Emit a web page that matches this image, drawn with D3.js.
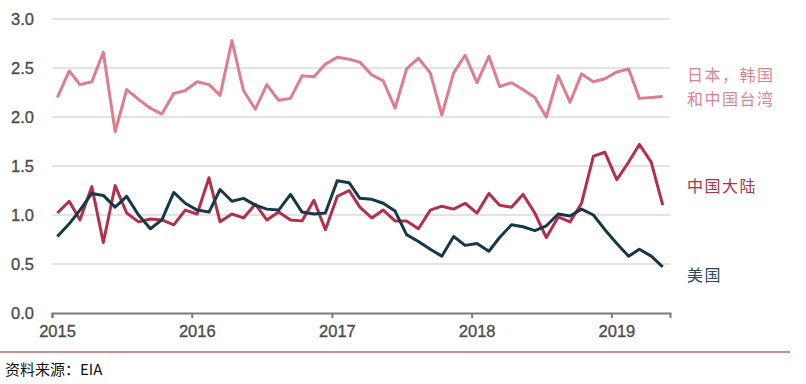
<!DOCTYPE html>
<html>
<head>
<meta charset="utf-8">
<script src="https://cdn.jsdelivr.net/npm/d3@7"></script>
<style>
  body { margin: 0; background: #fff; }
  svg { display: block; }
</style>
</head>
<body>
<svg id="chart" width="806" height="384"></svg>
<script>
// monthly, Jan 2015 .. May 2019
var startMonth = new Date(2015, 0, 1)
var monthCount = 53

var japanKoreaTaiwan = [2.20, 2.47, 2.33, 2.36, 2.66, 1.85, 2.28, 2.18, 2.09, 2.03, 2.24, 2.27,
  2.36, 2.33, 2.22, 2.78, 2.27, 2.08, 2.33, 2.17, 2.19, 2.42, 2.41, 2.54,
  2.61, 2.59, 2.56, 2.43, 2.37, 2.09, 2.49, 2.60, 2.45, 2.02, 2.45, 2.63,
  2.35, 2.62, 2.31, 2.35, 2.28, 2.20, 2.00, 2.42, 2.15, 2.44, 2.36, 2.39,
  2.46, 2.49, 2.19, 2.20, 2.21]
var chinaMainland = [1.02, 1.14, 0.95, 1.29, 0.72, 1.30, 1.02, 0.93, 0.96, 0.95, 0.90, 1.05,
  1.01, 1.38, 0.93, 1.01, 0.97, 1.11, 0.95, 1.03, 0.95, 0.94, 1.15, 0.85,
  1.19, 1.25, 1.08, 0.97, 1.05, 0.94, 0.94, 0.86, 1.05, 1.09, 1.06, 1.12,
  1.02, 1.22, 1.10, 1.08, 1.21, 1.02, 0.77, 0.98, 0.93, 1.12, 1.60, 1.64,
  1.36, 1.54, 1.72, 1.54, 1.10]
var usa = [0.78, 0.91, 1.05, 1.22, 1.20, 1.08, 1.19, 1.00, 0.86, 0.95, 1.23, 1.12,
  1.05, 1.03, 1.26, 1.14, 1.17, 1.10, 1.06, 1.05, 1.21, 1.03, 1.01, 1.02,
  1.35, 1.33, 1.17, 1.16, 1.12, 1.04, 0.80, 0.73, 0.65, 0.58, 0.78, 0.69,
  0.71, 0.63, 0.77, 0.90, 0.88, 0.84, 0.89, 1.01, 0.99, 1.06, 1.00, 0.85,
  0.71, 0.58, 0.65, 0.58, 0.47]

var yTicks = [0, 0.5, 1, 1.5, 2, 2.5, 3]
var xTickYears = [2015, 2016, 2017, 2018, 2019]

var seriesList = [
  {name: ["日本，韩国", "和中国台湾"], values: japanKoreaTaiwan, color: "#dd7d8d", labelColor: "#d98593", labelY: 81},
  {name: ["中国大陆"], values: chinaMainland, color: "#b2304a", labelColor: "#a6354a", labelY: 192},
  {name: ["美国"], values: usa, color: "#173847", labelColor: "#2c4655", labelY: 281}
]

// months placed mid-month like the original
var months = d3.timeMonth.range(startMonth, d3.timeMonth.offset(startMonth, monthCount))
  .map(function(d) { return d3.timeDay.offset(d, 14) })

var svg = d3.select("#chart")

var x = d3.scaleTime()
  .domain([new Date(2015, 0, 1), new Date(2019, 5, 3)])
  .range([52, 670])
var y = d3.scaleLinear()
  .domain([0, 3])
  .range([313, 19])

// grid
svg.append("g")
  .selectAll("line")
  .data(yTicks.filter(function(d) { return d > 0 }))
  .enter()
  .append("line")
    .attr("x1", 52)
    .attr("x2", 670)
    .attr("y1", function(d) { return y(d) })
    .attr("y2", function(d) { return y(d) })
    .attr("stroke", "#e3e3e3")
    .attr("stroke-width", 2)

// y axis labels only
var yAxis = svg.append("g")
  .attr("transform", "translate(52,0)")
  .call(d3.axisLeft(y).tickValues(yTicks).tickFormat(d3.format(".1f")).tickSize(0).tickPadding(18))
yAxis.select(".domain").remove()
yAxis.selectAll("text")
  .style("font-family", '"Liberation Sans", Arial, sans-serif')
  .style("font-size", "16.5px")
  .attr("fill", "#4d4d4d")
  .attr("stroke", "#4d4d4d")
  .attr("stroke-width", 0.35)

// x axis
var xAxis = svg.append("g")
  .attr("transform", "translate(0,313)")
  .call(d3.axisBottom(x)
    .tickValues(xTickYears.map(function(yr) { return new Date(yr, 0, 1) }))
    .tickFormat(d3.timeFormat("%Y"))
    .tickSizeOuter(0)
    .tickSize(5))
xAxis.select(".domain").attr("stroke", "#7a7a7a").attr("stroke-width", 2)
xAxis.selectAll(".tick line").attr("stroke", "#7a7a7a").attr("stroke-width", 2)
xAxis.selectAll("text")
  .attr("dx", 5)
  .attr("dy", "0.95em")
  .style("font-family", '"Liberation Sans", Arial, sans-serif')
  .style("font-size", "16.5px")
  .attr("fill", "#4d4d4d")
  .attr("stroke", "#4d4d4d")
  .attr("stroke-width", 0.35)

// lines
var line = d3.line()
  .x(function(d, i) { return x(months[i]) })
  .y(function(d) { return y(d) })

seriesList.forEach(function(s) {
  svg.append("path")
    .datum(s.values)
    .attr("d", line)
    .attr("fill", "none")
    .attr("stroke", s.color)
    .attr("stroke-width", 3)
    .attr("stroke-linejoin", "round")

  s.name.forEach(function(n, k) {
    svg.append("text")
      .attr("x", 687)
      .attr("y", s.labelY + k * 23.5)
      .style("font-family", '"Noto Sans CJK SC", sans-serif')
      .style("font-size", "16px")
      .style("letter-spacing", "1.5px")
      .attr("fill", s.labelColor)
      .text(n)
  })
})

// source line
svg.append("line")
  .attr("x1", 0).attr("x2", 790)
  .attr("y1", 352).attr("y2", 352)
  .attr("stroke", "#8e1c2c")
  .attr("stroke-width", 1.2)

svg.append("text")
  .attr("x", 5)
  .attr("y", 375)
  .style("font-family", '"Noto Sans CJK SC", sans-serif')
  .style("font-size", "15px")
  .attr("fill", "#111")
  .text("资料来源：EIA")
</script>
</body>
</html>
